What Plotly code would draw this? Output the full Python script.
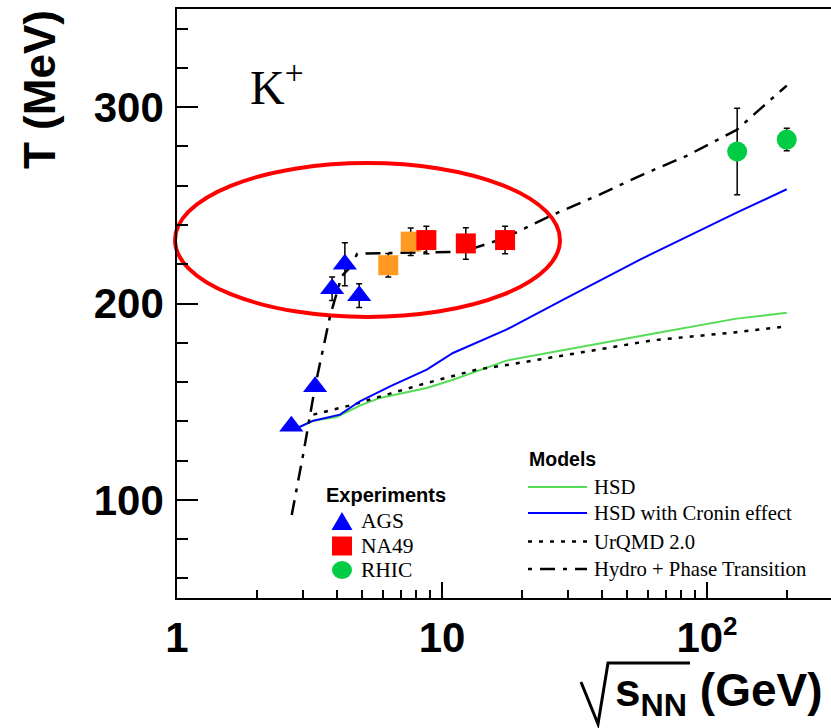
import plotly.graph_objects as go

# ---- measured K+ inverse slope parameters ----
ags_x = [2.70, 3.32, 3.85, 4.30, 4.87]
ags_t = [137.5, 157.6, 207.5, 220.0, 204.0]
ags_err = [0.0, 0.0, 6.0, 11.0, 6.0]

na49_x = [8.73, 12.3, 17.3]
na49_t = [232.3, 230.6, 232.3]
na49_err = [7.0, 8.0, 7.0]

na49_low_x = [6.27, 7.62]
na49_low_t = [219.5, 231.5]
na49_low_err = [6.0, 7.0]

rhic_x = [130.0, 200.0]
rhic_t = [277.4, 283.5]
rhic_err = [22.0, 5.7]

# ---- model curves ----
hsd_x = [2.75, 3.27, 4.00, 4.90, 5.83, 8.76, 11.0, 17.5, 64.6, 129.4, 200.0]
hsd_t = [135.7, 140.3, 142.2, 148.0, 151.9, 157.0, 161.2, 170.9, 185.0, 192.3, 195.3]

cronin_x = [2.75, 3.27, 4.12, 4.90, 6.37, 8.76, 11.0, 12.0, 17.5, 28.7, 55.9, 129.4, 200.0]
cronin_t = [135.7, 140.3, 143.4, 150.2, 157.8, 166.3, 174.8, 177.0, 186.7, 202.0, 222.4, 246.3, 258.2]

urqmd_x = [3.27, 4.63, 6.37, 8.76, 13.5, 18.0, 62.7, 129.4, 200.0]
urqmd_t = [143.4, 148.5, 154.1, 159.5, 166.3, 168.9, 181.3, 185.4, 188.4]

hydro_x = [2.71, 3.00, 3.32, 3.78, 4.18, 4.50, 4.79, 12.0, 17.0, 25.5, 39.5, 57.5, 83.8, 129.4, 158.5, 200.0]
hydro_t = [92.3, 123.8, 157.8, 193.5, 213.9, 218.5, 225.4, 226.4, 233.0, 244.5, 255.6, 265.8, 275.2, 288.4, 299.0, 311.0]

# ---- axis ticks ----
x_tickvals = [1, 10, 100]
x_ticktext = ["1", "10", "10<sup><span style='font-size:26px'>2</span></sup>"]
x_minor = [2, 3, 4, 5, 6, 7, 8, 9, 20, 30, 40, 50, 60, 70, 80, 90, 200]
y_tickvals = [100, 200, 300]
y_ticktext = ["100", "200", "300"]
y_minor = [60, 80, 120, 140, 160, 180, 220, 240, 260, 280, 320, 340]

W, H = 831, 728
L, R, T, B = 177, 0, 9, 130
PW, PH = W - L - R, H - T - B


def px(x):
    return (x - L) / PW


def py(y):
    return (H - B - y) / PH


SANS = "Liberation Sans"
SERIF = "Liberation Serif"

fig = go.Figure()

# model curves
fig.add_trace(go.Scatter(x=hsd_x, y=hsd_t, mode="lines",
                         line=dict(color="#55dd55", width=2), name="HSD"))
fig.add_trace(go.Scatter(x=urqmd_x, y=urqmd_t, mode="lines",
                         line=dict(color="black", width=2.5, dash="4px,7px"), name="UrQMD 2.0"))
fig.add_trace(go.Scatter(x=cronin_x, y=cronin_t, mode="lines",
                         line=dict(color="#0000ff", width=2), name="HSD with Cronin effect"))
fig.add_trace(go.Scatter(x=hydro_x, y=hydro_t, mode="lines",
                         line=dict(color="black", width=2.5, dash="15px,8px,4px,8px"),
                         name="Hydro + Phase Transition"))

err_style = dict(type="data", thickness=1.5, width=3, color="black")

# data points
fig.add_trace(go.Scatter(x=ags_x, y=ags_t, mode="markers", name="AGS",
                         error_y=dict(array=ags_err, **err_style),
                         marker=dict(symbol="triangle-up", size=21, color="#0000ff")))
fig.add_trace(go.Scatter(x=na49_low_x, y=na49_low_t, mode="markers", name="NA49 low energy",
                         error_y=dict(array=na49_low_err, **err_style),
                         marker=dict(symbol="square", size=20, color="#ff9922")))
fig.add_trace(go.Scatter(x=na49_x, y=na49_t, mode="markers", name="NA49",
                         error_y=dict(array=na49_err, **err_style),
                         marker=dict(symbol="square", size=20, color="#ff0000")))
fig.add_trace(go.Scatter(x=rhic_x, y=rhic_t, mode="markers", name="RHIC",
                         error_y=dict(array=rhic_err, **err_style),
                         marker=dict(symbol="circle", size=20, color="#00cc44")))

shapes = []
annotations = []

# highlighted plateau region
shapes.append(dict(type="circle", xref="paper", yref="paper", layer="below",
                   x0=px(175), x1=px(560), y0=py(317), y1=py(163),
                   line=dict(color="#ff0000", width=4)))

# ---- "Experiments" legend ----
annotations.append(dict(text="<b>Experiments</b>", xref="paper", yref="paper",
                        x=px(324), y=py(495), xanchor="left", yanchor="middle",
                        showarrow=False, font=dict(family=SANS, size=20, color="black")))
exp_rows = [("AGS", 521), ("NA49", 546), ("RHIC", 570)]
cx = 342
shapes.append(dict(type="path", xref="paper", yref="paper",
                   path=f"M{px(cx-10.5)},{py(530)} L{px(cx+10.5)},{py(530)} L{px(cx)},{py(512)} Z",
                   fillcolor="#0000ff", line=dict(width=0)))
shapes.append(dict(type="rect", xref="paper", yref="paper",
                   x0=px(cx-10), x1=px(cx+10), y0=py(555.5), y1=py(536.5),
                   fillcolor="#ff0000", line=dict(width=0)))
shapes.append(dict(type="circle", xref="paper", yref="paper",
                   x0=px(cx-10), x1=px(cx+10), y0=py(579), y1=py(561),
                   fillcolor="#00cc44", line=dict(width=0)))
for label, yc in exp_rows:
    annotations.append(dict(text=label, xref="paper", yref="paper",
                            x=px(359), y=py(yc), xanchor="left", yanchor="middle",
                            showarrow=False, font=dict(family=SERIF, size=21.5, color="black")))

# ---- "Models" legend ----
annotations.append(dict(text="<b>Models</b>", xref="paper", yref="paper",
                        x=px(527), y=py(459), xanchor="left", yanchor="middle",
                        showarrow=False, font=dict(family=SANS, size=19.5, color="black")))
model_rows = [
    ("HSD", 487, dict(color="#55dd55", width=2)),
    ("HSD with Cronin effect", 513, dict(color="#0000ff", width=2)),
    ("UrQMD 2.0", 541.5, dict(color="black", width=2.5, dash="4px,7px")),
    ("Hydro + Phase Transition", 569, dict(color="black", width=2.5, dash="4px,8px,15px,8px")),
]
for label, yc, ln in model_rows:
    shapes.append(dict(type="line", xref="paper", yref="paper",
                       x0=px(528), x1=px(587), y0=py(yc), y1=py(yc), line=ln))
    annotations.append(dict(text=label, xref="paper", yref="paper",
                            x=px(592), y=py(yc), xanchor="left", yanchor="middle",
                            showarrow=False, font=dict(family=SERIF, size=20.7, color="black")))

# particle label
annotations.append(dict(text="K<sup>+</sup>", xref="paper", yref="paper",
                        x=px(248), y=py(84), xanchor="left", yanchor="middle",
                        showarrow=False, font=dict(family=SERIF, size=48, color="black")))

# y axis title
annotations.append(dict(text="<b>T (MeV)</b>", xref="paper", yref="paper",
                        x=px(40), y=py(90), xanchor="center", yanchor="middle",
                        textangle=-90, showarrow=False,
                        font=dict(family=SANS, size=44, color="black")))

# x axis title: radical sign drawn as a path, then the text under its bar
shapes.append(dict(type="path", xref="paper", yref="paper",
                   path=(f"M{px(581)},{py(682)} L{px(598)},{py(724)} "
                         f"L{px(608)},{py(663)} L{px(690)},{py(663)}"),
                   line=dict(color="black", width=3)))
annotations.append(dict(text="<b>s<sub>NN</sub> (GeV)</b>", xref="paper", yref="paper",
                        x=px(613), y=py(693), xanchor="left", yanchor="middle",
                        showarrow=False, font=dict(family=SANS, size=46, color="black")))

fig.update_layout(
    width=W, height=H,
    margin=dict(l=L, r=R, t=T, b=B, pad=0),
    paper_bgcolor="white", plot_bgcolor="white",
    showlegend=False,
    shapes=shapes, annotations=annotations,
    xaxis=dict(type="log", range=[0, 2.468], showgrid=False, zeroline=False,
               showline=True, linecolor="black", linewidth=1.5, mirror=True,
               ticks="inside", ticklen=16, tickwidth=1.5, tickcolor="black",
               tickvals=x_tickvals, ticktext=x_ticktext, ticklabelstandoff=2,
               tickfont=dict(family=SANS, size=42, color="black", weight="bold"),
               minor=dict(tickvals=x_minor, ticks="inside", ticklen=8,
                          tickwidth=1.5, tickcolor="black", showgrid=False)),
    yaxis=dict(range=[50, 350], showgrid=False, zeroline=False,
               showline=True, linecolor="black", linewidth=1.5,
               ticks="inside", ticklen=21, tickwidth=1.5, tickcolor="black",
               tickvals=y_tickvals, ticktext=y_ticktext, ticklabelstandoff=3,
               tickfont=dict(family=SANS, size=42, color="black", weight="bold"),
               minor=dict(tickvals=y_minor, ticks="inside", ticklen=11,
                          tickwidth=1.5, tickcolor="black", showgrid=False)),
)

fig.write_html("out.html")
